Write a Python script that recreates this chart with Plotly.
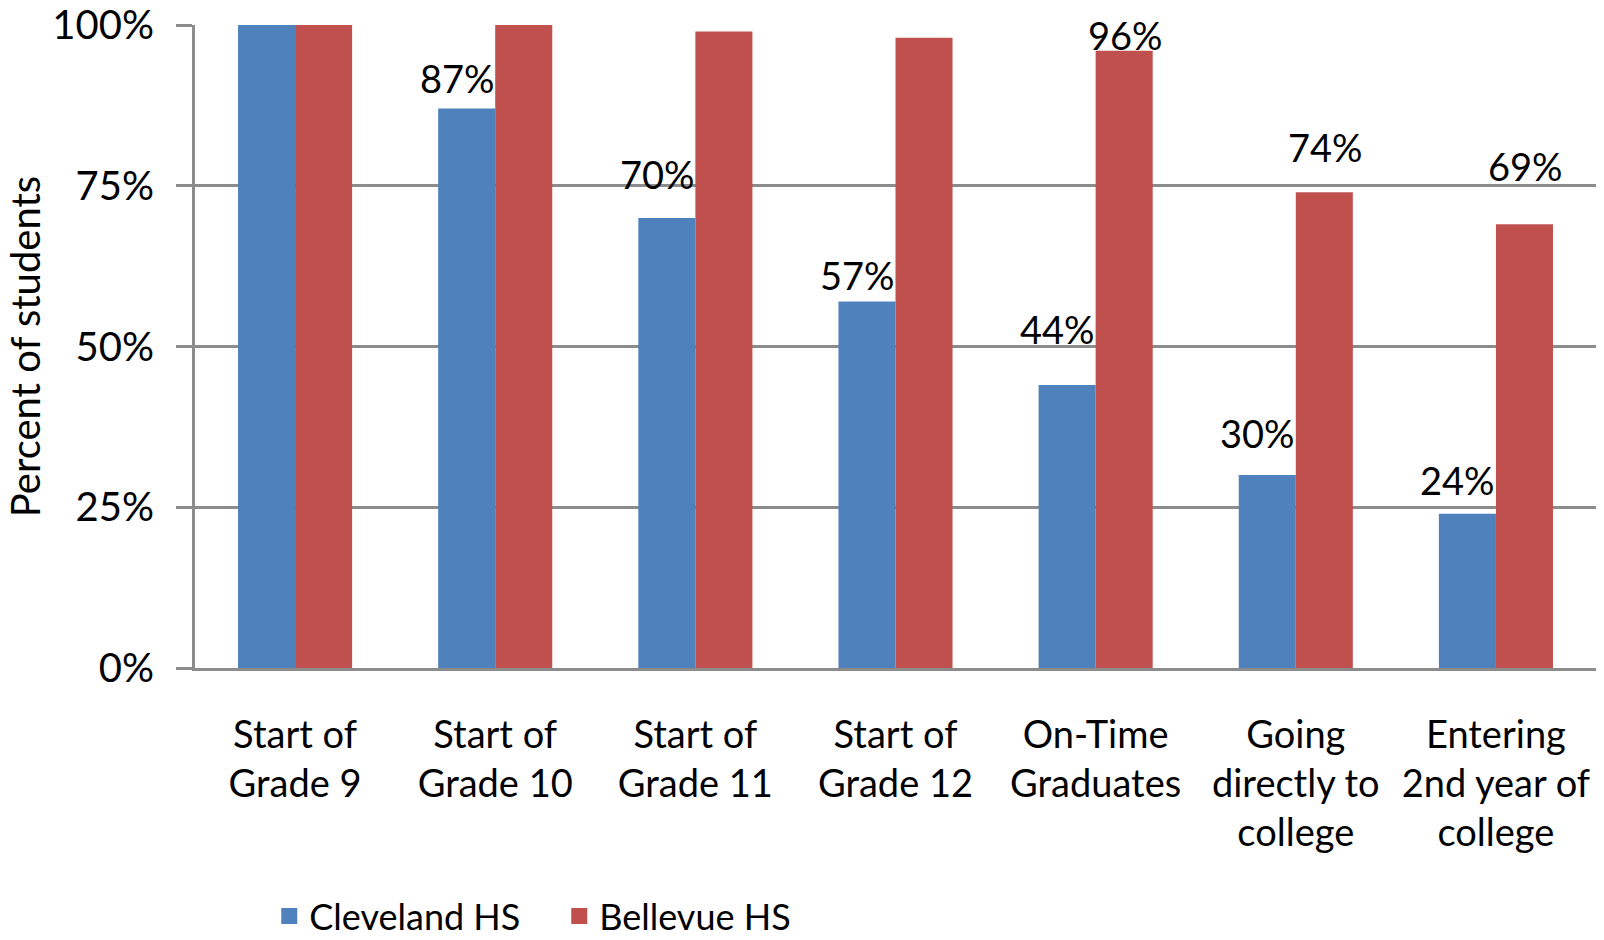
import plotly.graph_objects as go

# data
categories = [
    "Start of<br>Grade 9",
    "Start of<br>Grade 10",
    "Start of<br>Grade 11",
    "Start of<br>Grade 12",
    "On-Time<br>Graduates",
    "Going<br>directly to<br>college",
    "Entering<br>2nd year of<br>college",
]
cleveland = [100, 87, 70, 57, 44, 30, 24]
bellevue = [100, 100, 99, 98, 96, 74, 69]

# which bars carry a value label
cleveland_labelled = [False, True, True, True, True, True, True]
bellevue_labelled = [False, False, False, False, True, True, True]

# label placement (px above bar top), as placed by hand in the original
cleveland_lift = [0, 31, 44, 26, 56, 42, 34]
bellevue_lift = [0, 0, 0, 0, 16, 45, 58]

BLUE = "#4F81BD"
RED = "#C0504D"
GRID = "#8C8C8C"
FONT = "Lato"

fig = go.Figure()

fig.add_trace(go.Bar(
    x=categories, y=cleveland, name="Cleveland HS", showlegend=False,
    marker=dict(color=BLUE, line=dict(width=0)),
))
fig.add_trace(go.Bar(
    x=categories, y=bellevue, name="Bellevue HS", showlegend=False,
    marker=dict(color=RED, line=dict(width=0)),
))

# legend entries with larger square swatches
for name, color in [("Cleveland HS", BLUE), ("Bellevue HS", RED)]:
    fig.add_trace(go.Scatter(
        x=[None], y=[None], mode="markers", name=name,
        marker=dict(symbol="square", size=16, color=color),
    ))

# value labels
for series, shown, lift, shift in [
    (cleveland, cleveland_labelled, cleveland_lift, -38),
    (bellevue, bellevue_labelled, bellevue_lift, 30),
]:
    for cat, val, show, dy in zip(categories, series, shown, lift):
        if not show:
            continue
        fig.add_annotation(
            x=cat, y=val, text=f"{val}%", showarrow=False,
            xshift=shift, yshift=dy, yanchor="middle",
            font=dict(family=FONT, size=38, color="black"),
        )

fig.update_layout(
    width=1604,
    height=940,
    margin=dict(l=195, r=8, t=25, b=272, autoexpand=False),
    paper_bgcolor="white",
    plot_bgcolor="white",
    barmode="group",
    bargap=0.43,
    bargroupgap=0,
    font=dict(family=FONT, size=38, color="black"),
    showlegend=True,
    legend=dict(
        orientation="h",
        x=0.053, xanchor="left",
        y=-0.386, yanchor="middle",
        font=dict(family=FONT, size=36, color="black"),
        itemwidth=30,
        itemsizing="trace",
        entrywidth=245,
    ),
)

fig.update_yaxes(
    range=[0, 100],
    tickvals=[0, 25, 50, 75, 100],
    ticktext=["0%", "25%", "50%", "75%", "100%"],
    showgrid=True, gridcolor=GRID, gridwidth=3,
    showline=True, linecolor=GRID, linewidth=3,
    ticks="outside", ticklen=16, tickcolor=GRID, tickwidth=3,
    tickfont=dict(family=FONT, size=40),
    ticklabelstandoff=14,
    title=dict(text="Percent of students", font=dict(family=FONT, size=40), standoff=0),
    zeroline=False,
    automargin=False,
)
fig.update_xaxes(
    showline=True, linecolor=GRID, linewidth=3,
    ticks="", showgrid=False,
    tickfont=dict(family=FONT, size=38),
    ticklabelstandoff=31,
    automargin=False,
)

# the page body has a default 8px margin; drop it so the figure fills the window
fig.write_html(
    "out.html",
    config={"displayModeBar": False},
    post_script="document.body.style.margin = '0';",
)
